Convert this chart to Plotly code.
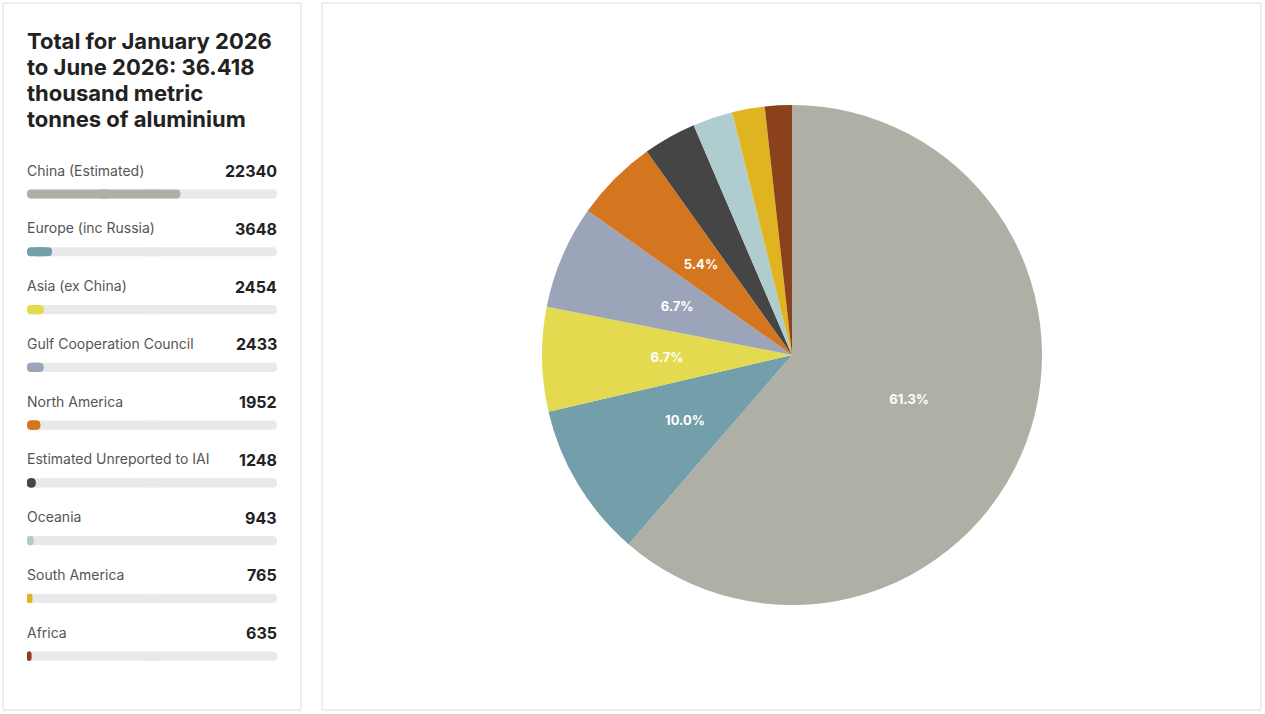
import plotly.graph_objects as go

regions = ["China (Estimated)", "Europe (inc Russia)", "Asia (ex China)",
           "Gulf Cooperation Council", "North America", "Estimated Unreported to IAI",
           "Oceania", "South America", "Africa"]
values = [22340, 3648, 2454, 2433, 1952, 1248, 943, 765, 635]
colors = ["#b0afa5", "#729fa9", "#e3da50", "#9ba4b8", "#d4751f",
          "#454545", "#afcccf", "#e0b421", "#8b421a"]
title_lines = ["Total for January 2026", "to June 2026: 36.418",
               "thousand metric", "tonnes of aluminium"]

total = sum(values)
W, H = 1265, 714

def px(x):
    return x / W

def py(y):
    return 1 - y / H

fig = go.Figure()

CX, CY, R = 792, 355, 250
RL, HOLE = 150, 0.667   # transparent label ring: label centres at about R/2

# Main pie (no text)
fig.add_trace(go.Pie(
    labels=regions, values=values, sort=False, direction="clockwise", rotation=0,
    marker=dict(colors=colors, line=dict(width=0)),
    textinfo="none",
    domain=dict(x=[px(CX - R), px(CX + R)], y=[py(CY + R), py(CY - R)]),
    showlegend=False, hoverinfo="label+value+percent",
))

# Transparent ring carrying the percentage labels
templates = ["%{percent:.1%}" if v / total >= 0.05 else "" for v in values]
fig.add_trace(go.Pie(
    labels=regions, values=values, sort=False, direction="clockwise", rotation=0,
    hole=HOLE,
    marker=dict(colors=["rgba(0,0,0,0)"] * len(values), line=dict(width=0)),
    texttemplate=templates, textposition="inside", insidetextorientation="horizontal",
    insidetextfont=dict(family="Inter", size=13, color="white", weight="bold"),
    domain=dict(x=[px(CX - RL), px(CX + RL)], y=[py(CY + RL), py(CY - RL)]),
    showlegend=False, hoverinfo="skip",
))

# Left panel pills: track + fill, each drawn as two overlapping halves so both ends are rounded
ov = total * 6 / 250  # ~6 px overlap (more than twice the corner radius)


def add_pill(lengths, color):
    left_end = [min(L, L / 2 + ov) for L in lengths]
    right_start = [max(0, L / 2 - ov) for L in lengths]
    fig.add_trace(go.Bar(
        y=regions, x=[-b for b in left_end], base=left_end, orientation="h",
        marker=dict(color=color, cornerradius=4, line=dict(width=0)),
        width=0.16, showlegend=False, hoverinfo="skip",
    ))
    fig.add_trace(go.Bar(
        y=regions, x=[L - b for L, b in zip(lengths, right_start)], base=right_start,
        orientation="h",
        marker=dict(color=color, cornerradius=4, line=dict(width=0)),
        width=0.16, showlegend=False, hoverinfo="skip",
    ))


add_pill([total] * len(regions), "#e8e9e8")
add_pill(values, colors)

annotations = []
for i, line in enumerate(title_lines):
    annotations.append(dict(
        text=line, xref="paper", yref="paper", x=px(27), y=py(41 + 26 * i), xshift=-2,
        xanchor="left", yanchor="middle", align="left", showarrow=False,
        font=dict(family="Inter", size=22, color="#222222", weight="bold"),
    ))
for r, v in zip(regions, values):
    annotations.append(dict(
        text=r, x=0, y=r, xref="x", yref="y", xanchor="left", yanchor="middle",
        yshift=24, xshift=-2, showarrow=False,
        font=dict(family="Inter", size=14, color="#555555"),
    ))
    annotations.append(dict(
        text=str(v), x=total, y=r, xref="x", yref="y", xanchor="right", yanchor="middle",
        yshift=23, xshift=2, showarrow=False,
        font=dict(family="Inter", size=16, color="#222222", weight="bold"),
    ))

n = len(regions)
row_gap = (656 - 194) / (n - 1)
fig.update_layout(
    width=W, height=H,
    margin=dict(l=0, r=0, t=0, b=0),
    paper_bgcolor="white", plot_bgcolor="rgba(0,0,0,0)",
    barmode="overlay",
    xaxis=dict(domain=[px(27), px(277)], range=[0, total], visible=False, fixedrange=True),
    yaxis=dict(domain=[py(656 + row_gap / 2), py(194 - row_gap / 2)],
               range=[n - 0.5, -0.5], visible=False, fixedrange=True),
    annotations=annotations,
    shapes=[
        dict(type="rect", xref="paper", yref="paper", x0=px(3), x1=px(301), y0=py(710), y1=py(3),
             line=dict(color="#dddddd", width=1), fillcolor="rgba(0,0,0,0)", layer="below"),
        dict(type="rect", xref="paper", yref="paper", x0=px(322), x1=px(1261), y0=py(710), y1=py(3),
             line=dict(color="#dddddd", width=1), fillcolor="rgba(0,0,0,0)", layer="below"),
    ],
    font=dict(family="Inter"),
)

fig.write_html("out.html", config={"displayModeBar": False},
               post_script="document.body.style.margin='0';")
